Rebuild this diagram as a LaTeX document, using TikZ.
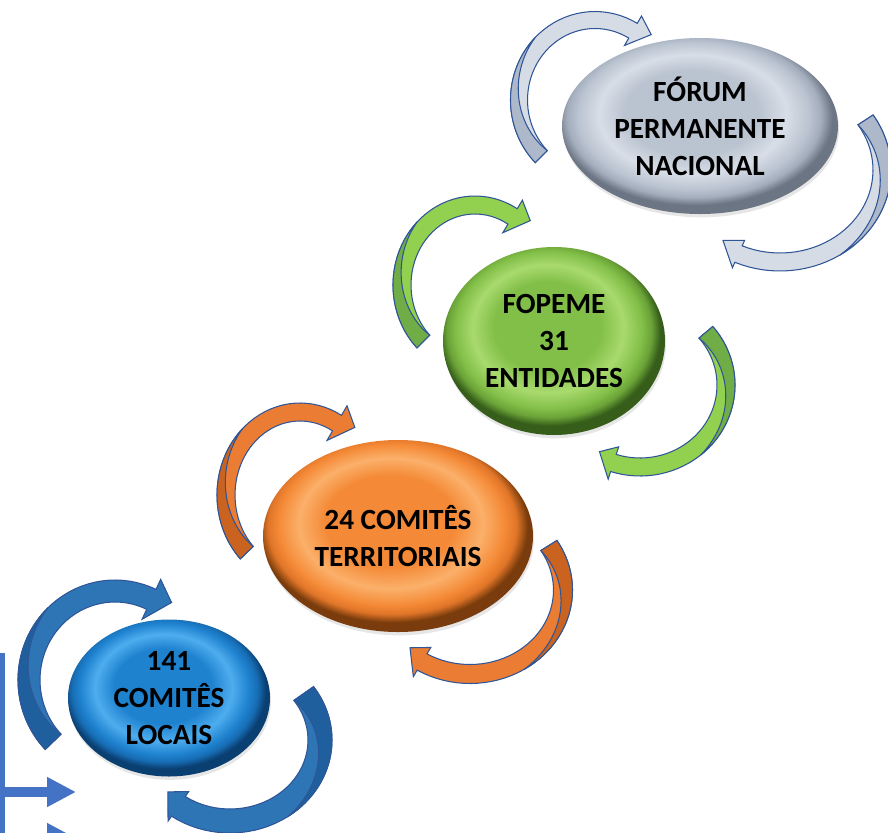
\documentclass[tikz,border=0pt]{standalone}
\usepackage{fontspec}
\setmainfont{Carlito}
\usetikzlibrary{calc,shadows,arrows.meta,shapes.geometric}

\definecolor{forumlight}{HTML}{D8DEE7}
\definecolor{forummain}{HTML}{BAC3D0}
\definecolor{forumrim}{HTML}{A3ADBC}
\definecolor{forumdark}{HTML}{6C7584}
\definecolor{fopemelight}{HTML}{A9DA6E}
\definecolor{fopememain}{HTML}{82BF48}
\definecolor{fopemerim}{HTML}{6BA338}
\definecolor{fopemedark}{HTML}{365E1A}
\definecolor{territlight}{HTML}{FBB06A}
\definecolor{territmain}{HTML}{F48A37}
\definecolor{territrim}{HTML}{E07528}
\definecolor{territdark}{HTML}{7A3C0C}
\definecolor{locaislight}{HTML}{4DADEE}
\definecolor{locaismain}{HTML}{1F82CF}
\definecolor{locaisrim}{HTML}{176DB4}
\definecolor{locaisdark}{HTML}{0A3F72}

\definecolor{greyarrowlight}{HTML}{D6DCE5}
\definecolor{greyarrowdark}{HTML}{ADB9CA}
\definecolor{greenarrowlight}{HTML}{92D050}
\definecolor{greenarrowdark}{HTML}{70AD47}
\definecolor{orangearrowlight}{HTML}{EA7D33}
\definecolor{orangearrowdark}{HTML}{C9631F}
\definecolor{bluearrowlight}{HTML}{2E75B6}
\definecolor{bluearrowdark}{HTML}{1F5F9E}
\definecolor{arrowline}{HTML}{2F5597}
\definecolor{sideblue}{HTML}{4472C4}

\pgfdeclareradialshading{forumshade}{\pgfpoint{-2bp}{5bp}}{color(0bp)=(forummain); color(12bp)=(forummain); color(17bp)=(forumlight); color(21bp)=(forummain); color(23bp)=(forumrim); color(25bp)=(forumdark); color(50bp)=(forumdark)}
\pgfdeclareradialshading{fopemeshade}{\pgfpoint{-2bp}{5bp}}{color(0bp)=(fopememain); color(12bp)=(fopememain); color(17bp)=(fopemelight); color(21bp)=(fopememain); color(23bp)=(fopemerim); color(25bp)=(fopemedark); color(50bp)=(fopemedark)}
\pgfdeclareradialshading{territshade}{\pgfpoint{-2bp}{5bp}}{color(0bp)=(territmain); color(12bp)=(territmain); color(17bp)=(territlight); color(21bp)=(territmain); color(23bp)=(territrim); color(25bp)=(territdark); color(50bp)=(territdark)}
\pgfdeclareradialshading{locaisshade}{\pgfpoint{-2bp}{5bp}}{color(0bp)=(locaismain); color(12bp)=(locaismain); color(17bp)=(locaislight); color(21bp)=(locaismain); color(23bp)=(locaisrim); color(25bp)=(locaisdark); color(50bp)=(locaisdark)}

% curved arrow round a node: style prefix, arc centre, x radius, y radius,
% tail angle, head angle, half width, head half width, tip offset
\newcommand{\cyclearrow}[9]{%
  \pgfmathsetmacro{\midangle}{#5-90}%
  \pgfmathsetmacro{\tipangle}{#6-12}%
  \filldraw[cycle arrow, #1front, shift={#2}]
    plot[domain=#5:#6] ({(#3+#7)*cos(\x)}, {(#4+#7)*sin(\x)})
    -- ({(#3+#8)*cos(#6)}, {(#4+#8)*sin(#6)})
    -- ({(#3+#9)*cos(\tipangle)}, {(#4+#9)*sin(\tipangle)})
    -- ({(#3-#8)*cos(#6)}, {(#4-#8)*sin(#6)})
    -- plot[domain=#6:#5] ({(#3-#7)*cos(\x)}, {(#4-#7)*sin(\x)})
    -- cycle;
  \filldraw[cycle arrow, #1back, shift={#2}]
    plot[domain=#5:\midangle] ({(#3+#7)*cos(\x)}, {(#4+#7)*sin(\x)})
    -- plot[domain=\midangle:#5]
       ({(#3+#7-2*#7*(\x-\midangle)/(#5-\midangle))*cos(\x)},
        {(#4+#7-2*#7*(\x-\midangle)/(#5-\midangle))*sin(\x)})
    -- cycle;
}

\begin{document}
\begin{tikzpicture}[x=0.03cm, y=0.03cm,
    level node/.style={ellipse, shade, inner sep=0pt, align=center, text=black,
        font=\fontsize{25}{31.5}\selectfont\bfseries,
        drop shadow={opacity=0.2, shadow xshift=0.03cm, shadow yshift=-0.1cm}},
    cycle arrow/.style={draw=arrowline, line width=0.9pt, samples=40},
    greyfront/.style={fill=greyarrowlight}, greyback/.style={fill=greyarrowdark},
    greenfront/.style={fill=greenarrowlight}, greenback/.style={fill=greenarrowdark},
    orangefront/.style={fill=orangearrowlight}, orangeback/.style={fill=orangearrowdark},
    bluefront/.style={fill=bluearrowlight}, blueback/.style={fill=bluearrowdark},
    side arrow/.style={draw=sideblue, line width=8.5pt,
        -{Triangle[length=24.6pt, width=23.8pt]}}]

    \useasboundingbox (0,0) rectangle (888,-833);
    \clip (0,0) rectangle (888,-833);

    % Define ellipses
    \node[level node, shading=forumshade, minimum width=8.28cm, minimum height=5.28cm]
        (forum) at (700,-126) {FÓRUM\\PERMANENTE\\NACIONAL};
    \node[level node, shading=fopemeshade, minimum width=6.66cm, minimum height=5.64cm]
        (fopeme) at (554,-341) {FOPEME\\31\\ENTIDADES};
    \node[level node, shading=territshade, minimum width=8.1cm, minimum height=5.76cm]
        (territorial) at (398,-536) {24 COMITÊS\\TERRITORIAIS};
    \node[level node, shading=locaisshade, minimum width=6.06cm, minimum height=4.71cm]
        (locais) at (169,-698) {141\\COMITÊS\\LOCAIS};

    % Draw cycle arrows
    \cyclearrow{grey}{($(forum)+(-105,26)$)}{76}{80}{225}{60}{8.5}{17}{8}
    \cyclearrow{grey}{($(forum)+(80,-44)$)}{102}{92}{33}{-114}{9}{15}{-5}
    \cyclearrow{green}{($(fopeme)+(-79,56)$)}{73}{80}{225}{59}{9}{19}{8}
    \cyclearrow{green}{($(fopeme)+(86,-44)$)}{86}{82}{40}{-108}{9}{17}{-5}
    \cyclearrow{orange}{($(territorial)+(-98,41)$)}{74}{83}{224}{60}{9}{20}{8}
    \cyclearrow{orange}{($(territorial)+(72,-54)$)}{93}{84}{32}{-121}{9.5}{17}{-5}
    \cyclearrow{blue}{($(locais)+(-54,18)$)}{86}{89}{224}{65}{11}{22}{8}
    \cyclearrow{blue}{($(locais)+(61,-42)$)}{90}{81}{35}{-125}{12}{18}{-5}

    % Draw cut-off arrows at the left edge
    \coordinate (bar top) at (2.5,-653);
    \coordinate (bar end) at (2.5,-850);
    \coordinate (out one) at (76,-792);
    \coordinate (out two) at (76,-838);
    \draw[sideblue, line width=4.25pt] (bar top) -- (bar end);
    \draw[side arrow] (bar top |- out one) -- (out one);
    \draw[side arrow] (bar top |- out two) -- (out two);

\end{tikzpicture}
\end{document}
